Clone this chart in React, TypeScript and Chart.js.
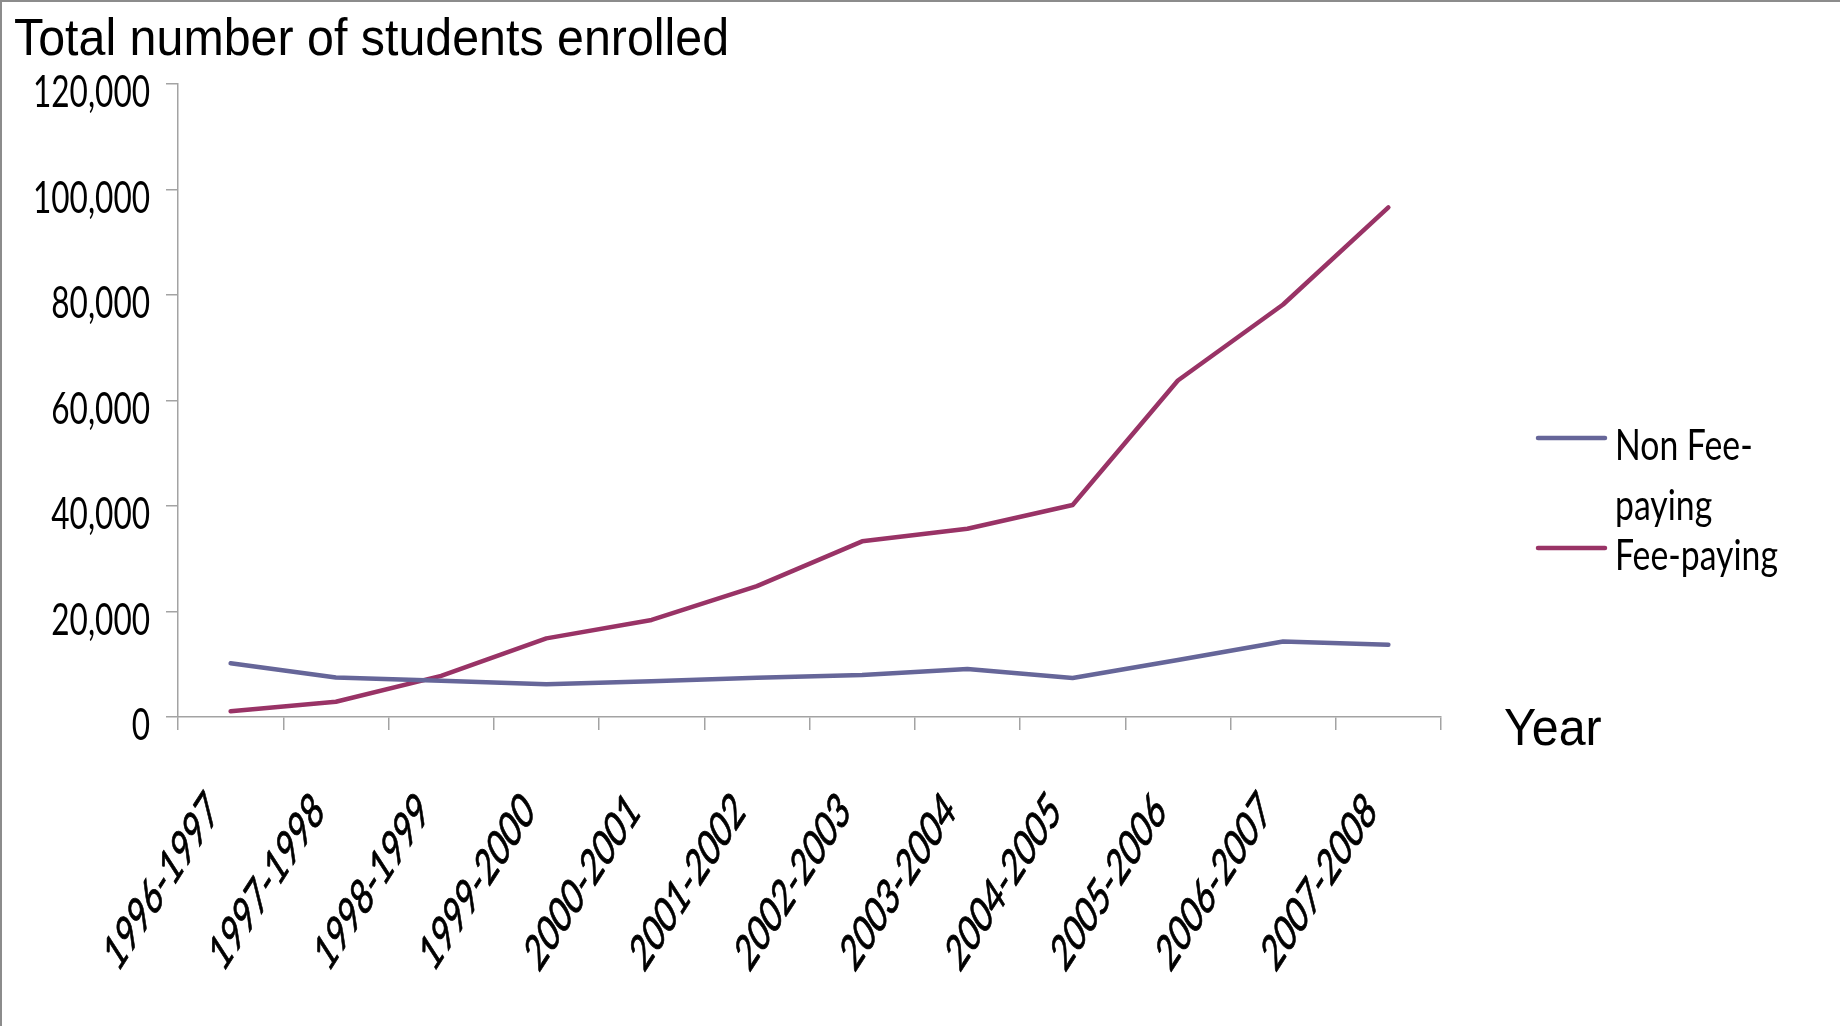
import React, { useEffect, useRef } from 'react';
import { Chart, registerables } from 'chart.js';

Chart.register(...registerables);

// ---- data ----
const categories = [
  '1996-1997', '1997-1998', '1998-1999', '1999-2000', '2000-2001', '2001-2002',
  '2002-2003', '2003-2004', '2004-2005', '2005-2006', '2006-2007', '2007-2008',
];
const nonFeePaying = [10200, 7500, 6850, 6200, 6800, 7450, 7950, 9100, 7400, 10800, 14300, 13700];
const feePaying = [1100, 2900, 7800, 14900, 18400, 24800, 33300, 35700, 40200, 63800, 78200, 96600];
const seriesNames = ['Non Fee-paying', 'Fee-paying'];
const legendLines = [['Non Fee-', 'paying'], ['Fee-paying']];
const yMin = 0;
const yMax = 120000;
const yStep = 20000;
const titleText = 'Total number of students enrolled';
const xAxisTitle = 'Year';

const W = 1840;
const H = 1026;
const BLUE = '#666699';
const RED = '#993366';
const AXIS = '#a3a3a3';
const LABEL_FONT = "Lato, 'Open Sans', 'DejaVu Sans', sans-serif";
const ARIAL = "'Liberation Sans', Arial, sans-serif";

const fmt = (v: number) => Number(v).toLocaleString('en-US');

const labelPlugin = {
  id: 'stretchedLabels',
  afterDraw(chart: any) {
    const ctx: CanvasRenderingContext2D = chart.ctx;
    const xs = chart.scales.x;
    const ys = chart.scales.y;
    ctx.save();
    ctx.fillStyle = '#000';
    ctx.strokeStyle = '#000';

    // y-axis labels (condensed)
    ctx.font = `44px ${LABEL_FONT}`;
    const sx = 117 / ctx.measureText(fmt(yMax)).width;
    ctx.textAlign = 'right';
    ctx.textBaseline = 'alphabetic';
    ys.ticks.forEach((t: any) => {
      const y = ys.getPixelForValue(t.value);
      ctx.save();
      ctx.translate(150, y + 23);
      ctx.scale(sx, 1);
      ctx.fillText(fmt(t.value), 0, 0);
      ctx.restore();
    });

    // x-axis labels (45deg, stretched vertically)
    ctx.font = `33px ${LABEL_FONT}`;
    ctx.textAlign = 'right';
    ctx.textBaseline = 'alphabetic';
    ctx.lineWidth = 0.6;
    xs.ticks.forEach((t: any, i: number) => {
      const x = xs.getPixelForValue(i);
      const label = xs.getLabelForValue(i);
      ctx.save();
      ctx.translate(x - 10, 814);
      ctx.scale(1, 1.55);
      ctx.rotate(-Math.PI / 4);
      ctx.scale(0.88, 1);
      ctx.fillText(label, 0, 0);
      ctx.strokeText(label, 0, 0);
      ctx.restore();
    });

    // legend
    const colors = [BLUE, RED];
    const lineYs = [438, 548];
    ctx.font = `42px ${LABEL_FONT}`;
    const sxl = 163 / ctx.measureText(legendLines[1][0]).width;
    ctx.textAlign = 'left';
    ctx.textBaseline = 'alphabetic';
    chart.data.datasets.forEach((ds: any, k: number) => {
      ctx.strokeStyle = colors[k];
      ctx.lineWidth = 4.5;
      ctx.lineCap = 'round';
      ctx.beginPath();
      ctx.moveTo(1538, lineYs[k]);
      ctx.lineTo(1605, lineYs[k]);
      ctx.stroke();
      legendLines[k].forEach((line, j) => {
        ctx.save();
        ctx.translate(1615, lineYs[k] + 22 + j * 60);
        ctx.scale(sxl, 1);
        ctx.fillText(line, 0, 0);
        ctx.restore();
      });
    });
    ctx.restore();
  },
};

export default function App() {
  const ref = useRef<HTMLCanvasElement | null>(null);

  useEffect(() => {
    if (!ref.current) return;
    const chart = new Chart(ref.current, {
      type: 'line',
      data: {
        labels: categories,
        datasets: [
          {
            label: seriesNames[0],
            data: nonFeePaying,
            borderColor: BLUE,
            backgroundColor: BLUE,
            borderWidth: 4.5,
            pointRadius: 0,
            tension: 0,
            borderCapStyle: 'round',
            borderJoinStyle: 'round',
          },
          {
            label: seriesNames[1],
            data: feePaying,
            borderColor: RED,
            backgroundColor: RED,
            borderWidth: 4.5,
            pointRadius: 0,
            tension: 0,
            borderCapStyle: 'round',
            borderJoinStyle: 'round',
          },
        ],
      },
      options: {
        responsive: false,
        animation: false,
        events: [],
        layout: { padding: { left: 0, top: 84, right: W - 1441, bottom: 0 } },
        plugins: {
          legend: { display: false },
          tooltip: { enabled: false },
          title: { display: false },
        },
        scales: {
          x: {
            offset: true,
            grid: {
              offset: true,
              drawOnChartArea: false,
              drawTicks: true,
              tickLength: 13,
              color: AXIS,
              lineWidth: 1.5,
            },
            border: { color: AXIS, width: 1.5 },
            ticks: { display: false, autoSkip: false },
            afterFit: (s: any) => {
              s.height = H - 717;
            },
          },
          y: {
            min: yMin,
            max: yMax,
            grid: {
              drawOnChartArea: false,
              drawTicks: true,
              tickLength: 12,
              color: AXIS,
              lineWidth: 1.5,
            },
            border: { color: AXIS, width: 1.5 },
            ticks: { display: false, stepSize: yStep, callback: (v: any) => fmt(v) },
            afterFit: (s: any) => {
              s.width = 178;
            },
          },
        },
      },
      plugins: [labelPlugin],
    });
    return () => chart.destroy();
  }, []);

  const textStyle: any = {
    position: 'absolute',
    fontFamily: ARIAL,
    fontSize: 52,
    lineHeight: '52px',
    whiteSpace: 'nowrap',
    color: '#000',
    transform: 'scaleX(0.93)',
    transformOrigin: 'left top',
  };

  return (
    <div
      style={{
        position: 'fixed',
        left: 0,
        top: 0,
        width: W,
        height: H,
        background: '#fff',
        overflow: 'hidden',
      }}
    >
      <canvas ref={ref} width={W} height={H} style={{ position: 'absolute', left: 0, top: 0, width: W, height: H }} />
      <div style={{ position: 'absolute', left: 0, top: 0, width: W, height: 2, background: '#8c8c8c' }} />
      <div style={{ position: 'absolute', left: 0, top: 0, width: 2, height: H, background: '#8c8c8c' }} />
      <div style={{ ...textStyle, left: 14, top: 11 }}>{titleText}</div>
      <div style={{ ...textStyle, left: 1504, top: 701 }}>{xAxisTitle}</div>
    </div>
  );
}
